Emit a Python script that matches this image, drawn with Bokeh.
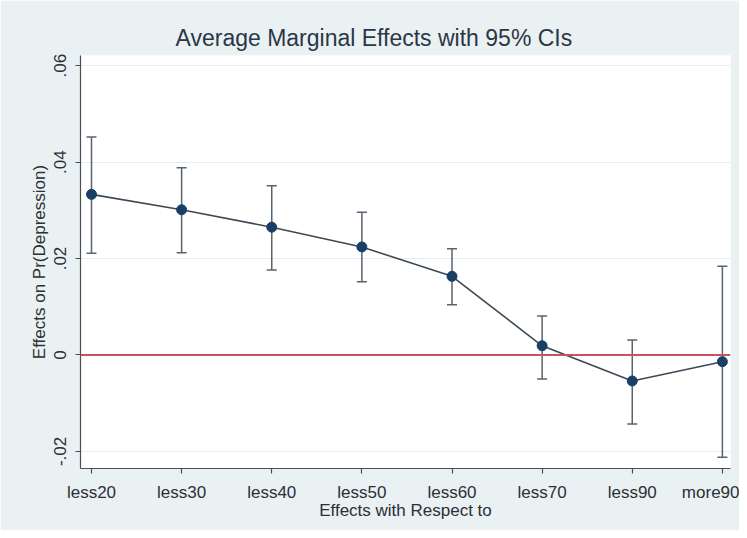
from bokeh.plotting import figure
from bokeh.models import (ColumnDataSource, Whisker, TeeHead, Span, FixedTicker,
                          Range1d, Title)
from bokeh.embed import file_html
from bokeh.resources import INLINE

# ---- data ----
categories = ["less20", "less30", "less40", "less50", "less60", "less70", "less90", "more90"]
effects = [0.0333, 0.0301, 0.0265, 0.0224, 0.0163, 0.0019, -0.0054, -0.0014]
ci_upper = [0.0452, 0.0388, 0.0351, 0.0296, 0.0220, 0.0081, 0.0031, 0.0184]
ci_lower = [0.0211, 0.0212, 0.0176, 0.0152, 0.0104, -0.0050, -0.0143, -0.0212]
y_ticks = [-0.02, 0, 0.02, 0.04, 0.06]
y_tick_labels = ["-.02", "0", ".02", ".04", ".06"]
ref_line = 0

positions = list(range(len(categories)))
src = ColumnDataSource(dict(x=positions, y=effects, upper=ci_upper, lower=ci_lower))

FONT = "Liberation Sans"
BG = "#eaf1f3"
TXT = "#2b2f36"

p = figure(width=739, height=530, output_backend="svg", toolbar_location=None,
           x_range=Range1d(-0.122, 7.09), y_range=Range1d(-0.02355, 0.0621),
           min_border_left=80, min_border_right=9, min_border_top=55,
           min_border_bottom=62)
p.background_fill_color = "white"
p.border_fill_color = BG
p.outline_line_color = None

title = Title(text="Average Marginal Effects with 95% CIs", align="left", offset=95,
              text_font=FONT, text_font_size="23px", text_font_style="normal",
              text_color="#2c3646", standoff=9)
p.add_layout(title, "above")

# grid
p.xgrid.grid_line_color = None
p.ygrid.ticker = FixedTicker(ticks=y_ticks)
p.ygrid.grid_line_color = "#e4ecef"
p.ygrid.grid_line_width = 1

# reference line
p.add_layout(Span(location=ref_line, dimension="width", line_color="#c7535f",
                  line_width=2))

# error bars
wh = Whisker(source=src, base="x", upper="upper", lower="lower",
             line_color="#59636d", line_width=1.5,
             upper_head=TeeHead(size=10, line_color="#59636d", line_width=1.5),
             lower_head=TeeHead(size=10, line_color="#59636d", line_width=1.5))
p.add_layout(wh)

p.line("x", "y", source=src, line_color="#3d4955", line_width=1.6)
p.scatter("x", "y", source=src, size=10, fill_color="#1a3f66", line_color="#1a3f66")

# axes
p.xaxis.ticker = FixedTicker(ticks=positions)
p.xaxis.major_label_overrides = {i: c for i, c in enumerate(categories)}
p.yaxis.ticker = FixedTicker(ticks=y_ticks)
p.yaxis.major_label_overrides = {t: l for t, l in zip(y_ticks, y_tick_labels)}
p.yaxis.major_label_orientation = "vertical"

for ax in (p.xaxis[0], p.yaxis[0]):
    ax.axis_line_color = "#4a4f55"
    ax.axis_line_width = 1.2
    ax.major_tick_line_color = "#4a4f55"
    ax.major_tick_line_width = 1.2
    ax.major_tick_out = 5
    ax.major_tick_in = 0
    ax.minor_tick_line_color = None
    ax.major_label_text_font = FONT
    ax.major_label_text_font_size = "17px"
    ax.major_label_text_color = TXT
    ax.axis_label_text_font = FONT
    ax.axis_label_text_font_size = "17px"
    ax.axis_label_text_font_style = "normal"
    ax.axis_label_text_color = TXT

p.xaxis.axis_label = "Effects with Respect to"
p.yaxis.axis_label = "Effects on Pr(Depression)"
p.xaxis.major_label_standoff = 9
p.xaxis.axis_label_standoff = -4
p.yaxis.major_label_standoff = 9
p.yaxis.axis_label_standoff = 3

open("out.html", "w").write(file_html(p, INLINE))
